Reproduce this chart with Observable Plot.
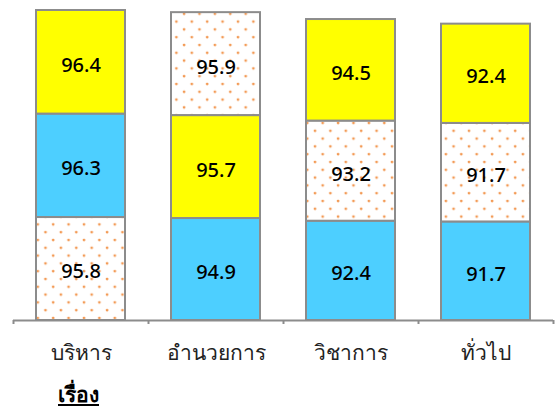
<!DOCTYPE html>
<html>
<head>
<meta charset="utf-8">
<script src="https://cdn.jsdelivr.net/npm/d3@7"></script>
<script src="https://cdn.jsdelivr.net/npm/@observablehq/plot@0.6"></script>
<style>
  html, body { margin: 0; padding: 0; background: #fff; }
  #wrap { position: relative; width: 560px; height: 410px; font-family: "Noto Sans", "DejaVu Sans", sans-serif; }
  #caption { position: absolute; left: 58px; top: 382px; font-size: 21px; font-weight: bold; text-decoration: underline; color: #000; line-height: 1.2; }
</style>
</head>
<body>
<div id="wrap">
  <div id="chart"></div>
  <div id="caption">เรื่อง</div>
</div>
<script>
const categories = ["บริหาร", "อำนวยการ", "วิชาการ", "ทั่วไป"];
const seriesNames = ["cyan", "dotted", "yellow"];
const cyanValues = [96.3, 94.9, 92.4, 91.7];
const dottedValues = [95.8, 95.9, 93.2, 91.7];
const yellowValues = [96.4, 95.7, 94.5, 92.4];

const fills = {cyan: "#4dcfff", dotted: "url(#dots)", yellow: "#ffff00"};
const valuesBySeries = {cyan: cyanValues, dotted: dottedValues, yellow: yellowValues};

const data = [];
categories.forEach((c, i) => {
  seriesNames.forEach(s => data.push({category: c, series: s, value: valuesBySeries[s][i]}));
});

const stackOpts = {x: "category", y: "value", order: "value"};
const stepPx = 135;

const plot = Plot.plot({
  width: 560,
  height: 370,
  marginTop: 10,
  marginBottom: 50,
  marginLeft: 13,
  marginRight: 7,
  x: {domain: categories, paddingInner: 0.34, paddingOuter: 0.17, label: null},
  y: {domain: [0, 288.5], axis: null},
  marks: [
    Plot.barY(data, Plot.stackY({
      ...stackOpts,
      fill: d => fills[d.series],
      stroke: "#8c8c8c",
      strokeWidth: 2
    })),
    Plot.text(data, Plot.stackY({
      ...stackOpts,
      text: d => d.value.toFixed(1),
      fontSize: 20,
      fontWeight: 500,
      dy: 3,
      fill: "#000"
    })),
    Plot.ruleY([0], {stroke: "#8c8c8c", strokeWidth: 2}),
    Plot.ruleX(categories, {x: d => d, y1: 0, y2: 0, insetBottom: -4, dx: -stepPx / 2, stroke: "#8c8c8c", strokeWidth: 2}),
    Plot.ruleX(categories.slice(-1), {x: d => d, y1: 0, y2: 0, insetBottom: -4, dx: stepPx / 2, stroke: "#8c8c8c", strokeWidth: 2}),
    Plot.axisX({tickSize: 0, tickPadding: 25, fontSize: 21, fill: "#222"})
  ],
  style: {fontFamily: "Noto Sans, DejaVu Sans, sans-serif", background: "#fff"}
});

const svg = d3.select(plot);
svg.insert("defs", ":first-child").html(
  `<pattern id="dots" patternUnits="userSpaceOnUse" x="4" y="3" width="15.4" height="15.6">
     <rect width="15.4" height="15.6" fill="#fff"/>
     <circle cx="3" cy="3" r="1.4" fill="#f39a55"/>
     <circle cx="10.7" cy="10.8" r="1.4" fill="#f39a55"/>
   </pattern>`
);
document.getElementById("chart").appendChild(plot);
</script>
</body>
</html>
